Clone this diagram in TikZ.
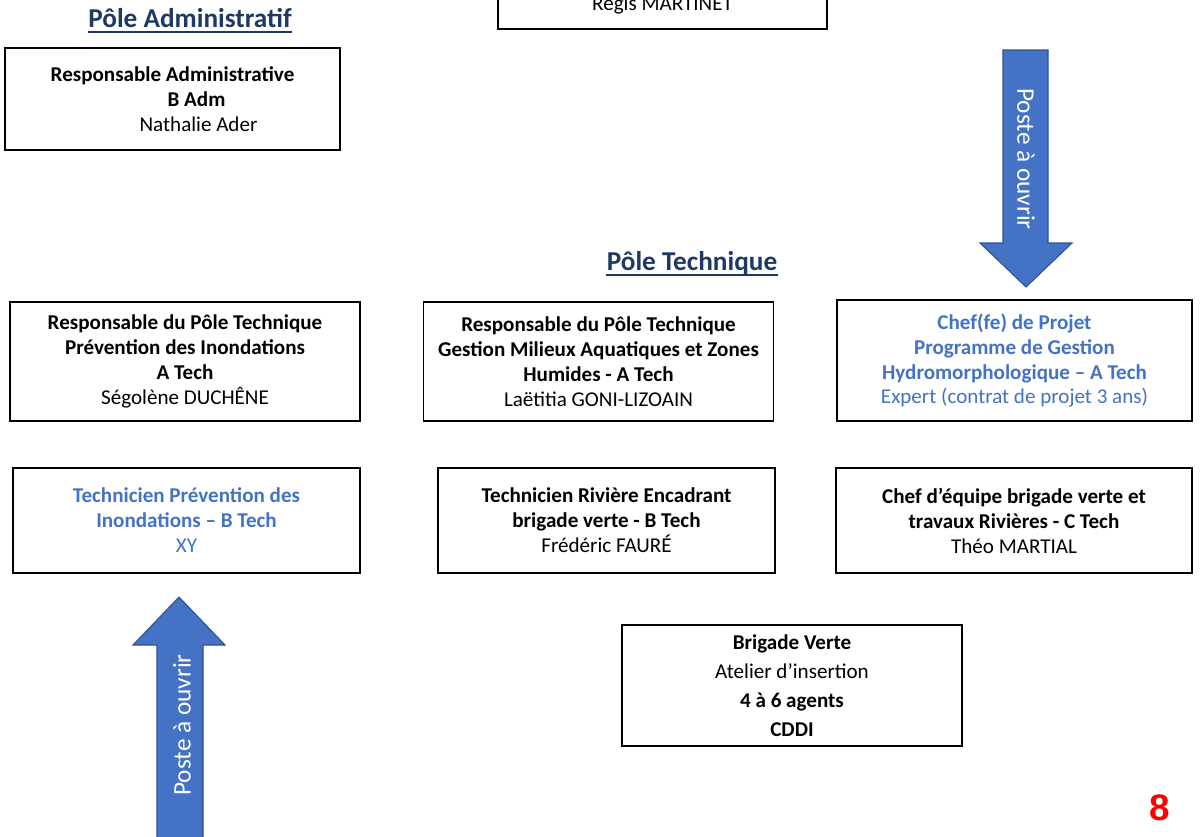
\documentclass[tikz,border=0pt]{standalone}
\usepackage{fontspec}
\setmainfont{Carlito}
\newfontfamily\pagefont{Liberation Sans}
\usetikzlibrary{positioning}

\definecolor{titleblue}{RGB}{31,56,100}
\definecolor{openblue}{RGB}{68,114,196}
\definecolor{arrowedge}{RGB}{47,82,143}

\begin{document}
\begin{tikzpicture}[x=0.02cm, y=-0.02cm,
  post/.style={draw, line width=0.9pt, align=center, inner sep=2pt,
    font=\fontsize{12}{14.2}\selectfont},
  vacant/.style={post, text=openblue},
  poletitle/.style={font=\fontsize{15.5}{18}\selectfont\bfseries, text=titleblue, inner sep=0pt},
  bigarrow/.style={fill=openblue, draw=arrowedge, line width=0.6pt},
  arrowtext/.style={text=white, font=\fontsize{14.4}{16}\selectfont}]
  \useasboundingbox (0,0) rectangle (1203,836);

  % direction, cut by the page top
  \node[post, anchor=base, minimum width=6.58cm, text height=1.6cm, text depth=0.31cm] (dir) at (662.5,10) {Régis MARTINET};

  % pole administratif
  \node[poletitle, anchor=base] (admtitle) at (190,27) {Pôle Administratif};
  \draw[titleblue, line width=1pt] ([yshift=-3pt]admtitle.base west) -- ([yshift=-3pt]admtitle.base east);
  \node[post, minimum width=6.7cm, minimum height=2.04cm] (radm) at (172.5,99)
    {\textbf{Responsable Administrative}\\ \hspace*{0.96cm}\textbf{B Adm}\\ \hspace*{1.04cm}Nathalie Ader};

  % pole technique
  \node[poletitle, anchor=base] (techtitle) at (692,270) {Pôle Technique};
  \draw[titleblue, line width=1pt] ([yshift=-3pt]techtitle.base west) -- ([yshift=-3pt]techtitle.base east);

  \node[post, minimum width=7cm, minimum height=2.38cm] (rinond) at (185,361.5)
    {\textbf{Responsable du Pôle Technique}\\ \textbf{Prévention des Inondations}\\ \textbf{A Tech}\\ Ségolène DUCHÊNE};
  \node[post, minimum width=7cm, minimum height=2.38cm, right=1.24cm of rinond] (rgemapi)
    {\textbf{Responsable du Pôle Technique}\\ \textbf{Gestion Milieux Aquatiques et Zones}\\ \textbf{Humides - A Tech}\\ Laëtitia GONI-LIZOAIN};
  \node[vacant, minimum width=7.1cm, minimum height=2.42cm] (chefprojet) at (1014.5,360.5)
    {\textbf{Chef(fe) de Projet}\\ \textbf{Programme de Gestion}\\ \textbf{Hydromorphologique – A Tech}\\ Expert (contrat de projet 3 ans)};

  \node[vacant, minimum width=6.94cm, minimum height=2.1cm] (techinond) at (186.5,520.5)
    {\textbf{Technicien Prévention des}\\ \textbf{Inondations – B Tech}\\ XY};
  \node[post, minimum width=6.74cm, minimum height=2.1cm] (techriv) at (606.5,520.5)
    {\textbf{Technicien Rivière Encadrant}\\ \textbf{brigade verte - B Tech}\\ Frédéric FAURÉ};
  \node[post, minimum width=7.12cm, minimum height=2.1cm] (chefequipe) at (1014,520.5)
    {\textbf{Chef d’équipe brigade verte et}\\ \textbf{travaux Rivières - C Tech}\\ Théo MARTIAL};

  \node[post, minimum width=6.8cm, minimum height=2.42cm, font=\fontsize{12}{16.6}\selectfont] (brigade) at (792,685.5)
    {\textbf{Brigade Verte}\\ Atelier d’insertion\\ \textbf{4 à 6 agents}\\ \textbf{CDDI}};

  % postes a ouvrir
  \draw[bigarrow] (1003,50) -- (1048,50) -- (1048,243) -- (1072,243) -- (1026,287)
    -- (980,243) -- (1003,243) -- cycle;
  \node[arrowtext, rotate=-90] (opendown) at (1026,159) {Poste à ouvrir};
  \draw[bigarrow] (157,840) -- (157,645) -- (133,645) -- (179,597) -- (225,645)
    -- (203,645) -- (203,840) -- cycle;
  \node[arrowtext, rotate=90] (openup) at (182,725) {Poste à ouvrir};

  \node[text=red, font=\pagefont\bfseries\fontsize{21}{24}\selectfont] (pagenum) at (1160,808) {8};
\end{tikzpicture}
\end{document}
